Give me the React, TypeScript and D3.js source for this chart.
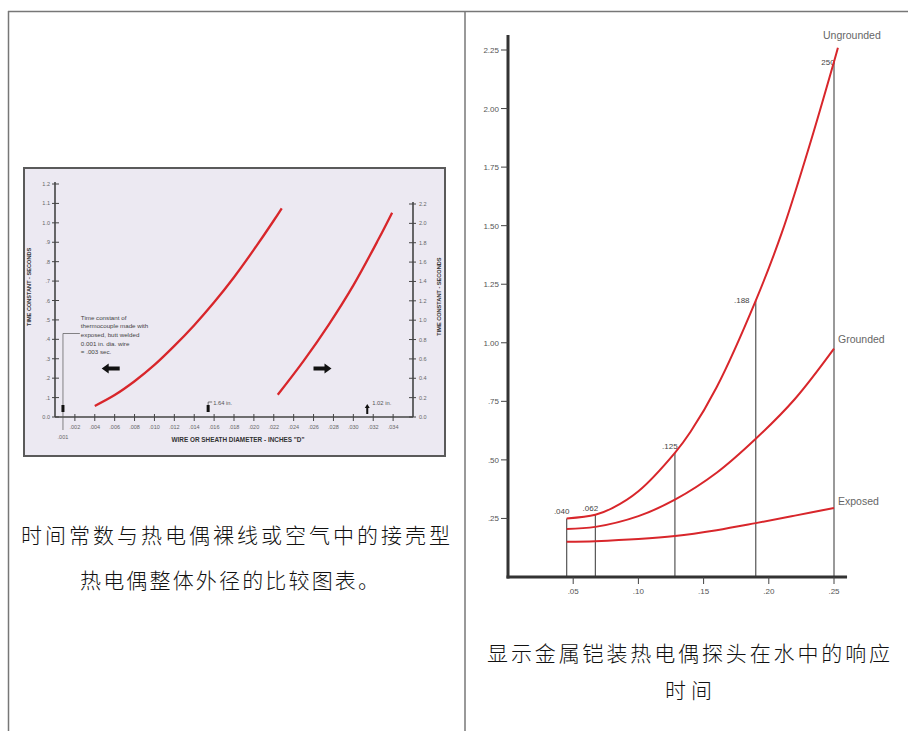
import React from "react";
import * as d3 from "d3";

// ---- left figure: time constant vs. wire / sheath diameter ----
const wireTicks = [0.002, 0.004, 0.006, 0.008, 0.01, 0.012, 0.014, 0.016, 0.018, 0.02, 0.022, 0.024, 0.026, 0.028, 0.03, 0.032, 0.034];
const wireTickLabels = [".002", ".004", ".006", ".008", ".010", ".012", ".014", ".016", ".018", ".020", ".022", ".024", ".026", ".028", ".030", ".032", ".034"];
const leftTicks = [0, 0.1, 0.2, 0.3, 0.4, 0.5, 0.6, 0.7, 0.8, 0.9, 1.0, 1.1, 1.2];
const leftTickLabels = ["0.0", ".1", ".2", ".3", ".4", ".5", ".6", ".7", ".8", ".9", "1.0", "1.1", "1.2"];
const rightTicks = [0, 0.2, 0.4, 0.6, 0.8, 1.0, 1.2, 1.4, 1.6, 1.8, 2.0, 2.2];
const rightTickLabels = ["0.0", "0.2", "0.4", "0.6", "0.8", "1.0", "1.2", "1.4", "1.6", "1.8", "2.0", "2.2"];

// bare wire curve (left scale)
const wireDiam = [0.004, 0.006, 0.008, 0.01, 0.012, 0.014, 0.016, 0.018, 0.02, 0.022, 0.0228];
const wireTime = [0.057, 0.113, 0.184, 0.268, 0.366, 0.473, 0.591, 0.72, 0.862, 1.012, 1.075];
// sheath curve (right scale)
const sheathDiam = [0.0224, 0.025, 0.0275, 0.03, 0.0325, 0.0339];
const sheathTime = [0.23, 0.58, 0.95, 1.36, 1.83, 2.11];

const noteLines = ["Time constant of", "thermocouple made with", "exposed, butt welded", "0.001 in. dia. wire", "= .003 sec."];

// ---- right figure: sheathed probe response in water ----
const respXTicks = [0.05, 0.1, 0.15, 0.2, 0.25];
const respXLabels = [".05", ".10", ".15", ".20", ".25"];
const respYTicks = [0.25, 0.5, 0.75, 1.0, 1.25, 1.5, 1.75, 2.0, 2.25];
const respYLabels = [".25", ".50", ".75", "1.00", "1.25", "1.50", "1.75", "2.00", "2.25"];

const probeX = [0.045, 0.067, 0.128, 0.19, 0.25];
const probeLabels = [".040", ".062", ".125", ".188", "250"];

const ungroundedX = [0.045, 0.067, 0.08, 0.1, 0.128, 0.14, 0.16, 0.19, 0.21, 0.23, 0.25, 0.253];
const ungroundedY = [0.25, 0.266, 0.294, 0.366, 0.53, 0.62, 0.81, 1.18, 1.47, 1.82, 2.2, 2.26];
const groundedX = [0.045, 0.067, 0.1, 0.128, 0.16, 0.19, 0.22, 0.25];
const groundedY = [0.205, 0.214, 0.26, 0.33, 0.445, 0.59, 0.76, 0.975];
const exposedX = [0.045, 0.067, 0.1, 0.128, 0.16, 0.19, 0.22, 0.25];
const exposedY = [0.15, 0.153, 0.162, 0.175, 0.2, 0.23, 0.262, 0.295];

const SANS = "'Liberation Sans', Arial, sans-serif";
const CJK = "'Noto Sans CJK SC', sans-serif";
const RED = "#d8262b";

function LeftFigure() {
  const x = d3.scaleLinear().domain([0, 0.036]).range([55, 413]);
  const yL = d3.scaleLinear().domain([0, 1.2]).range([417, 184]);
  const yR = d3.scaleLinear().domain([0, 2.2]).range([417, 204]);

  const line = d3.line<[number, number]>().curve(d3.curveCatmullRom.alpha(0.5));
  const wirePath = line(wireDiam.map((d, i) => [x(d), yL(wireTime[i])]));
  const sheathPath = line(sheathDiam.map((d, i) => [x(d), yR(sheathTime[i])]));

  const arrow = (cx: number, cy: number, dir: number) => {
    const p = [[-9, 0], [-2, -5], [-2, -2], [9, -2], [9, 2], [-2, 2], [-2, 5]]
      .map(([px, py]) => `${cx + px * dir},${cy + py}`).join(" ");
    return <polygon points={p} fill="#111" />;
  };

  return (
    <g fontFamily={SANS}>
      <rect x={24} y={168} width={421} height={288} fill="#ece9f2" stroke="#5a5a5a" strokeWidth={2} />
      {/* axes */}
      <line x1={x(0)} x2={x(0)} y1={yL(1.2) - 2} y2={yL(0)} stroke="#444" strokeWidth={1.6} />
      <line x1={x(0.036)} x2={x(0.036)} y1={yR(2.2) - 2} y2={yL(0)} stroke="#444" strokeWidth={1.6} />
      <line x1={x(0)} x2={x(0.036)} y1={yL(0)} y2={yL(0)} stroke="#444" strokeWidth={1.6} />
      {leftTicks.map((t, i) => (
        <g key={"l" + i}>
          <line x1={x(0) - 3} x2={x(0) + 4} y1={yL(t)} y2={yL(t)} stroke="#444" strokeWidth={1} />
          <text x={x(0) - 5} y={yL(t) + 2} fontSize={5.5} fill="#666" textAnchor="end">{leftTickLabels[i]}</text>
        </g>
      ))}
      {rightTicks.map((t, i) => (
        <g key={"r" + i}>
          <line x1={x(0.036) - 4} x2={x(0.036) + 3} y1={yR(t)} y2={yR(t)} stroke="#444" strokeWidth={1} />
          <text x={x(0.036) + 6} y={yR(t) + 2} fontSize={5.5} fill="#666">{rightTickLabels[i]}</text>
        </g>
      ))}
      {wireTicks.map((t, i) => (
        <g key={"x" + i}>
          <line x1={x(t)} x2={x(t)} y1={yL(0) - 3} y2={yL(0) + 4} stroke="#444" strokeWidth={1} />
          <text x={x(t)} y={yL(0) + 12} fontSize={5.5} fill="#666" textAnchor="middle">{wireTickLabels[i]}</text>
        </g>
      ))}
      {/* axis titles */}
      <text transform={`translate(31,${yL(0.67)}) rotate(-90)`} fontSize={5.6} fontWeight="bold" fill="#333" textAnchor="middle">TIME CONSTANT - SECONDS</text>
      <text transform={`translate(441,${yL(0.62)}) rotate(-90)`} fontSize={5.6} fontWeight="bold" fill="#333" textAnchor="middle">TIME CONSTANT - SECONDS</text>
      <text x={238} y={442} fontSize={6.4} fontWeight="bold" fill="#333" textAnchor="middle">WIRE OR SHEATH DIAMETER - INCHES "D"</text>
      {/* .001 note */}
      <polyline points={`${x(0.0025)},${yL(0.43)} ${x(0.0008)},${yL(0.43)} ${x(0.0008)},${yL(0) + 13}`} fill="none" stroke="#555" strokeWidth={0.7} />
      <rect x={x(0.0008) - 1.5} y={yL(0) - 12} width={3} height={7} fill="#111" />
      <text x={x(0.0008)} y={yL(0) + 22} fontSize={5.5} fill="#666" textAnchor="middle">.001</text>
      {noteLines.map((s, i) => (
        <text key={"n" + i} x={x(0.0026)} y={yL(0.43) - 14 + i * 8.7} fontSize={6.2} fill="#444">{s}</text>
      ))}
      {/* diameter markers */}
      <rect x={x(0.0154) - 1.5} y={yL(0) - 12} width={3} height={7} fill="#111" />
      <polyline points={`${x(0.0154)},${yL(0) - 12} ${x(0.0154)},${yL(0) - 15} ${x(0.0154) + 4},${yL(0) - 15}`} fill="none" stroke="#444" strokeWidth={0.7} />
      <text x={x(0.0154) + 5} y={yL(0) - 12} fontSize={5.8} fill="#555">1.64 in.</text>
      <polygon points={`${x(0.0314)},${yL(0) - 13} ${x(0.0314) - 2.5},${yL(0) - 9} ${x(0.0314) - 1},${yL(0) - 9} ${x(0.0314) - 1},${yL(0) - 3} ${x(0.0314) + 1},${yL(0) - 3} ${x(0.0314) + 1},${yL(0) - 9} ${x(0.0314) + 2.5},${yL(0) - 9}`} fill="#111" />
      <text x={x(0.0314) + 5} y={yL(0) - 12} fontSize={5.8} fill="#555">1.02 in.</text>
      {/* curves */}
      <path d={wirePath ?? ""} fill="none" stroke={RED} strokeWidth={2.3} />
      <path d={sheathPath ?? ""} fill="none" stroke={RED} strokeWidth={2.3} />
      {arrow(x(0.0056), yL(0.25), 1)}
      {arrow(x(0.0269), yL(0.25), -1)}
    </g>
  );
}

function RightFigure() {
  const x = d3.scaleLinear().domain([0, 0.25]).range([508, 834]);
  const y = d3.scaleLinear().domain([0, 2.25]).range([577, 50]);
  const line = d3.line<[number, number]>().curve(d3.curveCatmullRom.alpha(0.5));
  const curve = (xs: number[], ys: number[]) => line(xs.map((d, i) => [x(d), y(ys[i])])) ?? "";

  return (
    <g fontFamily={SANS}>
      {probeX.map((p, i) => {
        const top = ungroundedY[ungroundedX.indexOf(p)];
        const last = i === probeX.length - 1;
        const lx = last ? x(p) - 6 : i === 3 ? x(p) - 14 : x(p) - 5;
        const ly = last ? y(top) + 3 : i === 3 ? y(top) + 2 : y(top) - 4;
        return (
          <g key={"p" + i}>
            <line x1={x(p)} x2={x(p)} y1={y(top)} y2={y(0)} stroke="#555" strokeWidth={1.2} />
            <text x={lx} y={ly} fontSize={8} fill="#444" textAnchor="middle">{probeLabels[i]}</text>
          </g>
        );
      })}
      <path d={curve(ungroundedX, ungroundedY)} fill="none" stroke={RED} strokeWidth={2} />
      <path d={curve(groundedX, groundedY)} fill="none" stroke={RED} strokeWidth={2} />
      <path d={curve(exposedX, exposedY)} fill="none" stroke={RED} strokeWidth={2} />
      <line x1={x(0)} x2={x(0)} y1={35} y2={y(0) + 1.5} stroke="#333" strokeWidth={3} />
      <line x1={x(0) - 1.5} x2={x(0.26)} y1={y(0)} y2={y(0)} stroke="#333" strokeWidth={3} />
      {respYTicks.map((t, i) => (
        <g key={"y" + i}>
          <line x1={x(0) - 7} x2={x(0)} y1={y(t)} y2={y(t)} stroke="#444" strokeWidth={1} />
          <text x={x(0) - 9} y={y(t) + 3} fontSize={8} fill="#555" textAnchor="end">{respYLabels[i]}</text>
        </g>
      ))}
      {respXTicks.map((t, i) => (
        <g key={"x" + i}>
          <line x1={x(t)} x2={x(t)} y1={y(0)} y2={y(0) + 7} stroke="#444" strokeWidth={1} />
          <text x={x(t)} y={y(0) + 17} fontSize={8} fill="#555" textAnchor="middle">{respXLabels[i]}</text>
        </g>
      ))}
      <text x={823} y={39} fontSize={10.5} fill="#666">Ungrounded</text>
      <text x={838} y={343} fontSize={10.5} fill="#666">Grounded</text>
      <text x={838} y={505} fontSize={10.5} fill="#666">Exposed</text>
    </g>
  );
}

export default function App() {
  return (
    <div style={{ position: "absolute", left: 0, top: 0 }}>
      <svg width={908} height={731} style={{ display: "block", background: "#fff" }}>
        {/* table borders */}
        <line x1={8} x2={908} y1={11.5} y2={11.5} stroke="#777" strokeWidth={1.5} />
        <line x1={8.5} x2={8.5} y1={11} y2={731} stroke="#777" strokeWidth={1.5} />
        <line x1={465} x2={465} y1={11} y2={731} stroke="#777" strokeWidth={1.5} />
        <LeftFigure />
        <RightFigure />
        <g fontFamily={CJK} fill="#111" fontSize={21} fontWeight={300}>
          <text x={21} y={543} textLength={429} lengthAdjust="spacing">时间常数与热电偶裸线或空气中的接壳型</text>
          <text x={80} y={588} textLength={299} lengthAdjust="spacing">热电偶整体外径的比较图表。</text>
          <text x={487} y={661} textLength={403} lengthAdjust="spacing">显示金属铠装热电偶探头在水中的响应</text>
          <text x={665} y={698} textLength={47} lengthAdjust="spacing">时间</text>
        </g>
      </svg>
    </div>
  );
}
